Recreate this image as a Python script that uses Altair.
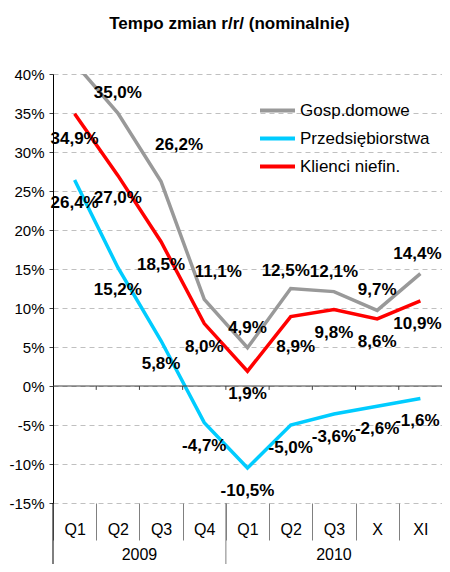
import altair as alt
import pandas as pd

# ---------------- data ----------------
categories = ["2009 Q1", "2009 Q2", "2009 Q3", "2009 Q4",
              "2010 Q1", "2010 Q2", "2010 Q3", "2010 X", "2010 XI"]
series_names = ["Gosp.domowe", "Przedsiębiorstwa", "Klienci niefin."]
gosp = [41.4, 35.0, 26.2, 11.1, 4.9, 12.5, 12.1, 9.7, 14.4]
przed = [26.4, 15.2, 5.8, -4.7, -10.5, -5.0, -3.6, -2.6, -1.6]
klienci = [34.9, 27.0, 18.5, 8.0, 1.9, 8.9, 9.8, 8.6, 10.9]
years = ["2009", "2010"]
y_ticks = list(range(-15, 41, 5))
colors = ["#999999", "#00CCFF", "#FF0000"]

# ---------------- layout / style ----------------
W, H = 389, 429
PAD = {"left": 45, "top": 66, "right": 0, "bottom": 61}
FONT = "Liberation Sans"
Y_DOMAIN = [-15, 40]

rows = []
for name, vals in zip(series_names, [gosp, przed, klienci]):
    for c, v in zip(categories, vals):
        rows.append({"cat": c, "series": name, "value": v,
                     "label": f"{v:.1f}".replace(".", ",") + "%"})
df = pd.DataFrame(rows)

xscale = alt.Scale(domain=categories, paddingInner=0, paddingOuter=0)
yscale = alt.Scale(domain=Y_DOMAIN, nice=False, zero=False)

x_axis = alt.Axis(title=None, labelExpr="split(datum.label, ' ')[1]",
                  tickBand="extent", tickSize=37, tickColor="#808080",
                  domain=False, labelAngle=0, labelFontSize=16, labelFont=FONT,
                  labelColor="#000", labelPadding=-11, labelBaseline="middle",
                  grid=False)
y_axis = alt.Axis(title=None, values=y_ticks, labelExpr="datum.value + '%'",
                  grid=True, gridDash=[5, 4], gridColor="#c0c0c0",
                  domainColor="#000", tickSize=4, tickColor="#404040",
                  labelPadding=5, labelFontSize=15, labelFont=FONT,
                  labelColor="#000")


def X(field="cat:N", **kw):
    return alt.X(field, scale=xscale, axis=x_axis, sort=categories, **kw)


def Y(field="value:Q"):
    return alt.Y(field, scale=yscale, axis=y_axis)


lines = alt.Chart(df).mark_line(strokeWidth=3.5, clip=True).encode(
    x=X(),
    y=Y(),
    color=alt.Color("series:N",
                    scale=alt.Scale(domain=series_names, range=colors),
                    legend=alt.Legend(title=None, orient="none",
                                      legendX=205, legendY=17, padding=0,
                                      symbolType="stroke", symbolSize=1225,
                                      symbolStrokeWidth=4, labelFontSize=17,
                                      labelFont=FONT, labelColor="#000",
                                      labelOffset=3, rowPadding=0)),
    order=alt.Order("series:N"),
)

# label offsets (style)
default_off = {"Gosp.domowe": (0, -20), "Przedsiębiorstwa": (0, 23),
               "Klienci niefin.": (0, 23)}
override_off = {("Gosp.domowe", "2009 Q3"): (18, -37),
                ("Gosp.domowe", "2009 Q4"): (14, -27),
                ("Gosp.domowe", "2010 Q2"): (-5, -18),
                ("Gosp.domowe", "2010 XI"): (-3, -20),
                ("Klienci niefin.", "2010 Q2"): (5, 30),
                ("Klienci niefin.", "2009 Q1"): (0, 25),
                ("Klienci niefin.", "2010 XI"): (-3, 23),
                ("Przedsiębiorstwa", "2010 XI"): (-3, 23)}

lab = df[df["value"] <= Y_DOMAIN[1]].copy()
lab["off"] = [override_off.get((s, c), default_off[s])
              for s, c in zip(lab["series"], lab["cat"])]
label_layers = []
for off, g in lab.groupby("off"):
    dx, dy = off
    label_layers.append(
        alt.Chart(g.drop(columns="off")).mark_text(
            font=FONT, fontSize=17, fontWeight="bold", color="#000",
            dx=dx, dy=dy, baseline="middle", align="center").encode(
            x=X(), y=Y(), text="label:N"))

zero_df = pd.DataFrame({"value": [0.0]})
zero_line = alt.Chart(zero_df).mark_rule(color="#404040", strokeWidth=1).encode(
    y=Y(), x=alt.value(0), x2=alt.value(W))

tick_df = pd.DataFrame({"cat": categories[1:], "value": 0.0, "y1": -0.5})
zero_ticks = alt.Chart(tick_df).mark_rule(color="#404040", strokeWidth=1).encode(
    x=X(bandPosition=0), y=Y(), y2="y1:Q")

ext_df = pd.DataFrame({"a": [0]})
yaxis_ext = alt.Chart(ext_df).mark_rule(color="#000", strokeWidth=1).encode(
    x=alt.value(0), y=alt.value(H), y2=alt.value(H + PAD["bottom"]))

sep_df = pd.DataFrame({"cat": [categories[3]]})
year_sep = alt.Chart(sep_df).mark_rule(color="#808080", strokeWidth=1).encode(
    x=X(bandPosition=1), y=alt.value(H), y2=alt.value(H + PAD["bottom"]))

y2009 = alt.Chart(pd.DataFrame({"cat": [categories[2]], "t": [years[0]]})).mark_text(
    font=FONT, fontSize=16, color="#000", baseline="middle").encode(
    x=X(bandPosition=0), y=alt.value(H + 52), text="t:N")
y2010 = alt.Chart(pd.DataFrame({"cat": [categories[6]], "t": [years[1]]})).mark_text(
    font=FONT, fontSize=16, color="#000", baseline="middle").encode(
    x=X(bandPosition=0.5), y=alt.value(H + 52), text="t:N")

chart = alt.layer(lines, zero_line, zero_ticks, yaxis_ext, year_sep, y2009, y2010,
                  *label_layers).properties(
    width=W, height=H,
    title=alt.TitleParams("Tempo zmian r/r/ (nominalnie)", fontSize=17, font=FONT,
                          fontWeight="bold", color="#000", anchor="middle",
                          frame="group", dx=-18, offset=26, baseline="middle"),
    autosize=alt.AutoSizeParams(type="none"),
    padding=PAD,
).configure_view(stroke=None)

chart.save("out.html", embed_options={"renderer": "svg", "actions": False})
